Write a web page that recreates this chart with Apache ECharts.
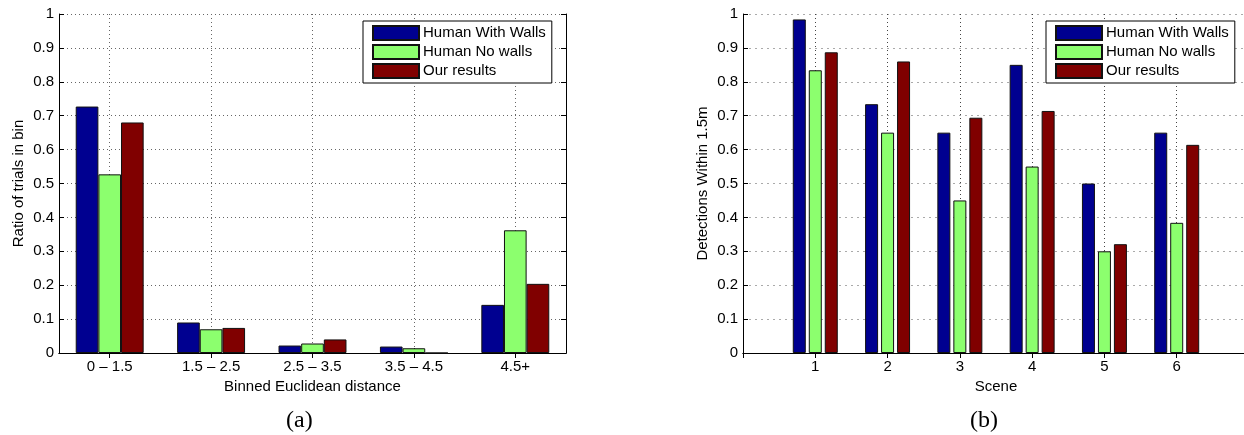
<!DOCTYPE html>
<html>
<head>
<meta charset="utf-8">
<script src="https://cdn.jsdelivr.net/npm/echarts@6/dist/echarts.min.js"></script>
<style>
  html, body { margin: 0; padding: 0; background: #fff; }
  #main { width: 1244px; height: 435px; }
</style>
</head>
<body>
<div id="main"></div>
<script>
// (a) ratio of trials per distance bin
const distBins = ['0 – 1.5', '1.5 – 2.5', '2.5 – 3.5', '3.5 – 4.5', '4.5+'];
const distWithWalls = [0.727, 0.09, 0.022, 0.019, 0.142];
const distNoWalls = [0.527, 0.07, 0.028, 0.014, 0.362];
const distOurs = [0.68, 0.074, 0.04, 0, 0.204];

// (b) detections within 1.5m per scene
const scenes = ['1', '2', '3', '4', '5', '6'];
const sceneWithWalls = [0.984, 0.734, 0.65, 0.85, 0.5, 0.65];
const sceneNoWalls = [0.834, 0.65, 0.45, 0.55, 0.3, 0.384];
const sceneOurs = [0.887, 0.86, 0.694, 0.714, 0.321, 0.614];

const names = ['Human With Walls', 'Human No walls', 'Our results'];
const colors = ['#000090', '#8cff6e', '#800000'];

// scene axis runs 0..7, so pad one empty slot each side
const sceneCats = [''].concat(scenes, ['']);
const pad = arr => ['-'].concat(arr, ['-']);

const font = '"Liberation Sans", Arial, Helvetica, sans-serif';

const axisLine = { show: true, lineStyle: { color: '#000', width: 1 } };
const tickIn = { show: true, inside: true, length: 5, lineStyle: { color: '#000' } };

const xBase = (gridIndex, data, opts) => Object.assign({
  type: 'category',
  gridIndex,
  data,
  axisLine,
  axisLabel: { color: '#000', fontSize: 15, fontFamily: font, margin: 6 },
  nameTextStyle: { color: '#000', fontSize: 15, fontFamily: font },
}, opts);

const yBase = (gridIndex, opts) => Object.assign({
  type: 'value',
  gridIndex,
  min: 0,
  max: 1,
  interval: 0.1,
  axisLine,
  axisTick: tickIn,
  axisLabel: { color: '#000', fontSize: 15, fontFamily: font, margin: 5 },
  nameTextStyle: { color: '#000', fontSize: 15, fontFamily: font },
}, opts);

const barSeries = (vals, i, xi, yi, extra) => Object.assign({
  name: names[i],
  type: 'bar',
  xAxisIndex: xi,
  yAxisIndex: yi,
  data: vals,
  itemStyle: { color: colors[i], borderColor: '#111', borderWidth: 1 },
  z: 3,
}, extra);

const legendBase = left => ({
  orient: 'vertical',
  left,
  top: 21,
  data: names,
  icon: 'rect',
  itemWidth: 46,
  itemHeight: 14,
  itemGap: 3,
  padding: [4, 6, 4, 9],
  borderColor: '#000',
  borderWidth: 1,
  backgroundColor: '#fff',
  textStyle: { color: '#000', fontSize: 15, fontFamily: font, padding: [0, 0, 0, -1] },
  selectedMode: false,
  z: 10,
});

const option = {
  animation: false,
  backgroundColor: '#fff',
  grid: [
    { left: 59, top: 14, width: 507, height: 339, outerBoundsMode: 'none' },
    { left: 743, top: 14, width: 506, height: 339, outerBoundsMode: 'none' },
  ],
  legend: [legendBase(363), legendBase(1046)],
  xAxis: [
    xBase(0, distBins, {
      name: 'Binned Euclidean distance',
      nameLocation: 'middle',
      nameGap: 23,
      axisTick: Object.assign({ alignWithLabel: true }, tickIn),
      splitLine: { show: true, alignWithLabel: true, lineStyle: { color: '#666', type: [1, 3] } },
    }),
    xBase(0, distBins, {
      position: 'top',
      axisLabel: { show: false },
      axisTick: Object.assign({ alignWithLabel: true }, tickIn),
    }),
    xBase(1, sceneCats, {
      name: 'Scene',
      nameLocation: 'middle',
      nameGap: 23,
      boundaryGap: false,
      axisTick: Object.assign({ interval: 0 }, tickIn),
      axisLabel: { color: '#000', fontSize: 15, fontFamily: font, margin: 6, interval: 0 },
      splitLine: { show: true, interval: 0, lineStyle: { color: '#444', type: [1, 3] } },
    }),
    xBase(1, sceneCats, {
      position: 'top',
      boundaryGap: false,
      axisLabel: { show: false },
      axisTick: Object.assign({ interval: 0 }, tickIn),
    }),
  ],
  yAxis: [
    yBase(0, {
      name: 'Ratio of trials in bin',
      nameLocation: 'middle',
      nameGap: 33,
      splitLine: { show: true, lineStyle: { color: '#666', type: [1, 3] } },
    }),
    yBase(0, { position: 'right', axisLabel: { show: false }, splitLine: { show: false } }),
    yBase(1, {
      name: 'Detections Within 1.5m',
      nameLocation: 'middle',
      nameGap: 33,
      splitLine: { show: true, lineStyle: { color: '#aaa', type: [2, 4] } },
    }),
    yBase(1, { position: 'right', axisLabel: { show: false }, splitLine: { show: false } }),
  ],
  series: [
    barSeries(distWithWalls, 0, 0, 0, { barGap: '0%', barCategoryGap: '33%' }),
    barSeries(distNoWalls, 1, 0, 0, { barGap: '0%', barCategoryGap: '33%' }),
    barSeries(distOurs, 2, 0, 0, { barGap: '0%', barCategoryGap: '33%' }),
    barSeries(pad(sceneWithWalls), 0, 2, 2, { barWidth: 13, barGap: '23%' }),
    barSeries(pad(sceneNoWalls), 1, 2, 2, { barWidth: 13, barGap: '23%' }),
    barSeries(pad(sceneOurs), 2, 2, 2, { barWidth: 13, barGap: '23%' }),
  ],
  graphic: [
    { type: 'text', left: 286, top: 409, style: { text: '(a)', fontSize: 24, fontFamily: '"Liberation Serif", "Times New Roman", serif', fill: '#000' } },
    { type: 'text', left: 970, top: 409, style: { text: '(b)', fontSize: 24, fontFamily: '"Liberation Serif", "Times New Roman", serif', fill: '#000' } },
  ],
};

const chart = echarts.init(document.getElementById('main'), null, { renderer: 'canvas' });
chart.setOption(option);
</script>
</body>
</html>
